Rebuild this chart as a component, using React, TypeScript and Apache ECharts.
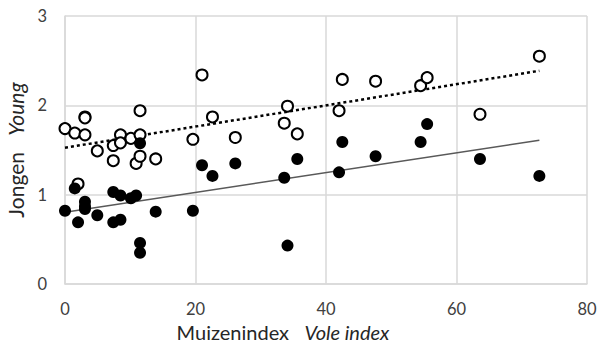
import React, { useEffect, useRef } from "react";
import * as echarts from "echarts";

// Vole index per observation (shared by both series)
const voleIndex = [
  0, 1.5, 2.0, 3.06, 3.06, 3.06, 4.95, 7.4, 7.4, 8.5, 8.5, 10.1, 10.9, 11.5, 11.5, 11.5,
  13.9, 19.6, 21.0, 22.6, 26.1, 33.6, 34.1, 35.6, 42.0, 42.5, 47.6, 54.5, 55.5, 63.6, 72.7,
];

// Young per pair (open circles)
const youngOpen = [
  1.74, 1.69, 1.12, 1.67, 1.87, 1.86, 1.49, 1.55, 1.38, 1.67, 1.58, 1.63, 1.35, 1.94, 1.67, 1.43,
  1.4, 1.62, 2.34, 1.87, 1.64, 1.8, 1.99, 1.68, 1.94, 2.29, 2.27, 2.22, 2.31, 1.9, 2.55,
];

// Young per pair (filled circles)
const youngFilled = [
  0.82, 1.07, 0.69, 0.92, 0.87, 0.84, 0.77, 1.03, 0.69, 0.99, 0.72, 0.96, 0.99, 1.575, 0.46, 0.35,
  0.81, 0.82, 1.33, 1.21, 1.35, 1.19, 0.43, 1.4, 1.25, 1.59, 1.43, 1.59, 1.79, 1.4, 1.21,
];

const xTicks = [0, 20, 40, 60, 80];
const yTicks = [0, 1, 2, 3];

const FONT = "Lato, 'Open Sans', sans-serif";

// Least-squares linear trend, drawn across the data's x range
function trend(xs: number[], ys: number[]): number[][] {
  const n = xs.length;
  const mx = xs.reduce((a, b) => a + b, 0) / n;
  const my = ys.reduce((a, b) => a + b, 0) / n;
  let sxy = 0;
  let sxx = 0;
  for (let i = 0; i < n; i++) {
    sxy += (xs[i] - mx) * (ys[i] - my);
    sxx += (xs[i] - mx) ** 2;
  }
  const slope = sxy / sxx;
  const icpt = my - slope * mx;
  const x0 = Math.min(...xs);
  const x1 = Math.max(...xs);
  return [
    [x0, icpt + slope * x0],
    [x1, icpt + slope * x1],
  ];
}

export default function App() {
  const ref = useRef<HTMLDivElement>(null);

  useEffect(() => {
    if (!ref.current) return;
    const chart = echarts.init(ref.current, undefined, { renderer: "svg" });
    const pairs = (ys: number[]) => voleIndex.map((x, i) => [x, ys[i]]);
    const xNameStyle = { fontFamily: FONT, fontSize: 20, color: "#262626" };
    const yNameStyle = { fontFamily: FONT, fontSize: 21, color: "#262626" };

    chart.setOption({
      animation: false,
      backgroundColor: "#ffffff",
      grid: { left: 65, right: 14, top: 16, bottom: 68, outerBoundsMode: "none", containLabel: false },
      xAxis: {
        type: "value",
        min: xTicks[0],
        max: xTicks[xTicks.length - 1],
        interval: 20,
        name: "Muizenindex   {i|Vole index}",
        nameLocation: "middle",
        nameGap: 35,
        nameTextStyle: {
          ...xNameStyle,
          padding: [0, 86, 0, 0],
          rich: { i: { ...xNameStyle, fontStyle: "italic" } },
        },
        axisLine: { show: true, lineStyle: { color: "#d9d9d9", width: 1.5 } },
        axisTick: { show: false },
        axisLabel: { fontFamily: FONT, fontSize: 16.5, color: "#404040", margin: 16 },
        splitLine: { show: true, lineStyle: { color: "#d9d9d9", width: 1.5 } },
      },
      yAxis: {
        type: "value",
        min: yTicks[0],
        max: yTicks[yTicks.length - 1],
        interval: 1,
        name: "Jongen   {i|Young}",
        nameLocation: "middle",
        nameGap: 39,
        nameRotate: 90,
        nameTextStyle: {
          ...yNameStyle,
          rich: { i: { ...yNameStyle, fontStyle: "italic" } },
        },
        axisLine: { show: true, lineStyle: { color: "#d9d9d9", width: 1.5 } },
        axisTick: { show: false },
        axisLabel: { fontFamily: FONT, fontSize: 16.5, color: "#404040", margin: 18 },
        splitLine: { show: true, lineStyle: { color: "#d9d9d9", width: 1.5 } },
      },
      series: [
        {
          type: "line",
          data: trend(voleIndex, youngOpen),
          symbol: "none",
          lineStyle: { color: "#000000", width: 2.5, type: [3, 3] },
          z: 1,
        },
        {
          type: "line",
          data: trend(voleIndex, youngFilled),
          symbol: "none",
          lineStyle: { color: "#595959", width: 1.5 },
          z: 1,
        },
        {
          type: "scatter",
          data: pairs(youngOpen),
          symbol: "circle",
          symbolSize: 11,
          itemStyle: { color: "#ffffff", borderColor: "#000000", borderWidth: 2, opacity: 1 },
          z: 3,
        },
        {
          type: "scatter",
          data: pairs(youngFilled),
          symbol: "circle",
          symbolSize: 12,
          itemStyle: { color: "#000000", opacity: 1 },
          z: 4,
        },
      ],
    });

    return () => chart.dispose();
  }, []);

  return <div ref={ref} style={{ width: 601, height: 352, position: "fixed", left: 0, top: 0 }} />;
}
